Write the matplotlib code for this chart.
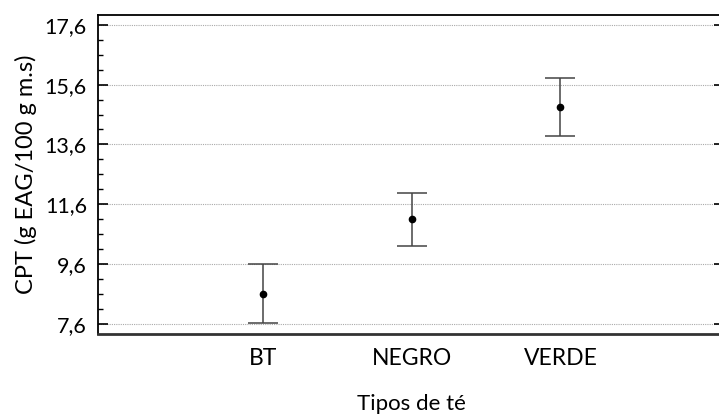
import matplotlib.pyplot as plt
from matplotlib.ticker import MultipleLocator, FuncFormatter

# Mean CPT per tea type and half-width of the interval
tipos = ['BT', 'NEGRO', 'VERDE']
medias = [8.61, 11.09, 14.85]
errores = [0.99, 0.88, 0.96]

plt.rcParams['font.family'] = ['Lato', 'DejaVu Sans']

fig = plt.figure(figsize=(7.19, 4.17), dpi=100)
ax = fig.add_axes([0.1363, 0.199, 0.8707, 0.7643])

posiciones = [1, 2, 3]
ax.errorbar(posiciones, medias, yerr=errores, fmt='o', color='black',
            markersize=4.5, ecolor='#444444', elinewidth=1.1,
            capsize=10.5, capthick=1.1, zorder=3)

ax.set_xlim(-0.11, 4.10)
ax.set_ylim(7.257, 17.92)
ax.set_xticks(posiciones)
ax.set_xticklabels(tipos)

ax.set_yticks([7.6, 9.6, 11.6, 13.6, 15.6, 17.6])
ax.yaxis.set_minor_locator(MultipleLocator(0.5, offset=0.1))
ax.yaxis.set_major_formatter(FuncFormatter(lambda v, p: f'{v:.1f}'.replace('.', ',')))

ax.grid(axis='y', which='major', color='#aaaaaa', linestyle=(0, (1, 1)), linewidth=0.8)
ax.set_axisbelow(True)

ax.tick_params(axis='y', which='major', direction='in', length=7.5, width=1.2,
               labelsize=15.5, right=True, pad=8)
ax.tick_params(axis='y', which='minor', direction='in', length=3.5, width=1.0, right=False)
ax.tick_params(axis='x', length=0, labelsize=16.5, pad=10)

for s in ['left', 'top']:
    ax.spines[s].set_linewidth(1.3)
ax.spines['bottom'].set_color('#333333')
ax.spines['bottom'].set_linewidth(2.0)

ax.set_ylabel('CPT (g EAG/100 g m.s)', fontsize=17)
ax.yaxis.set_label_coords(-0.097, 0.5)
ax.set_xlabel('Tipos de té', fontsize=16, labelpad=18)

fig.savefig('out.png', dpi=100)
